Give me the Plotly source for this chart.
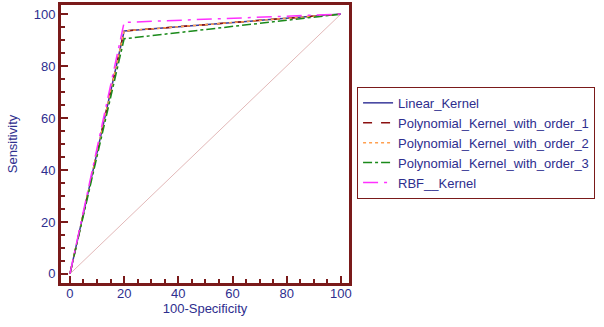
import plotly.graph_objects as go

fpr = [0, 20, 100]
linear = [0, 93.5, 100]
poly1 = [0, 93.5, 100]
poly2 = [0, 93.5, 100]
poly3 = [0, 90.5, 100]
rbf = [0, 96.8, 100]
diag_x = [0, 100]
diag_y = [0, 100]

names = ["Linear_Kernel", "Polynomial_Kernel_with_order_1", "Polynomial_Kernel_with_order_2",
         "Polynomial_Kernel_with_order_3", "RBF__Kernel"]
series = [linear, poly1, poly2, poly3, rbf]
colors = ["#3a3a9a", "#8b1010", "#ffa050", "#1a8a1a", "#ff30ff"]
dashes = ["solid", "dash", "dot", "dashdot", "longdashdot"]

fig = go.Figure()
fig.add_trace(go.Scatter(x=diag_x, y=diag_y, mode="lines", line=dict(color="#e2b8b8", width=1),
                         showlegend=False, hoverinfo="skip"))
for n, s, c, d in zip(names, series, colors, dashes):
    fig.add_trace(go.Scatter(x=fpr, y=s, mode="lines", name=n, line=dict(color=c, width=1.5, dash=d)))

frame = "#7a1a1a"
tickfont = dict(family="Liberation Sans, Arial", size=13, color="#2e2e8e")
axis_common = dict(showgrid=False, zeroline=False, showline=True, mirror=True, linewidth=3,
                   linecolor=frame, ticks="inside", ticklen=7, tickwidth=2, tickcolor=frame,
                   tickfont=tickfont, dtick=20, tick0=0, automargin=False,
                   minor=dict(ticks="inside", ticklen=4, tickwidth=1.5, tickcolor=frame, dtick=5, showgrid=False))

fig.update_layout(
    width=604, height=327,
    margin=dict(l=61, r=255, t=5, b=44),
    plot_bgcolor="white", paper_bgcolor="white",
    xaxis=dict(range=[-3.3, 103], ticklabelstandoff=-4,
               title=dict(text="100-Specificity", font=tickfont, standoff=2), **axis_common),
    yaxis=dict(range=[-3.5, 103.5], title=dict(text="Sensitivity", font=tickfont, standoff=14), **axis_common),
    legend=dict(x=1.028, y=0.504, xanchor="left", yanchor="middle", bordercolor=frame, borderwidth=1,
                font=dict(family="Liberation Sans, Arial", size=13, color="#2e2e8e"),
                tracegroupgap=0, itemwidth=30),
    showlegend=True,
)

fig.write_html("out.html", config={"displayModeBar": False},
               post_script="document.body.style.margin='0';document.body.style.overflow='hidden';")
